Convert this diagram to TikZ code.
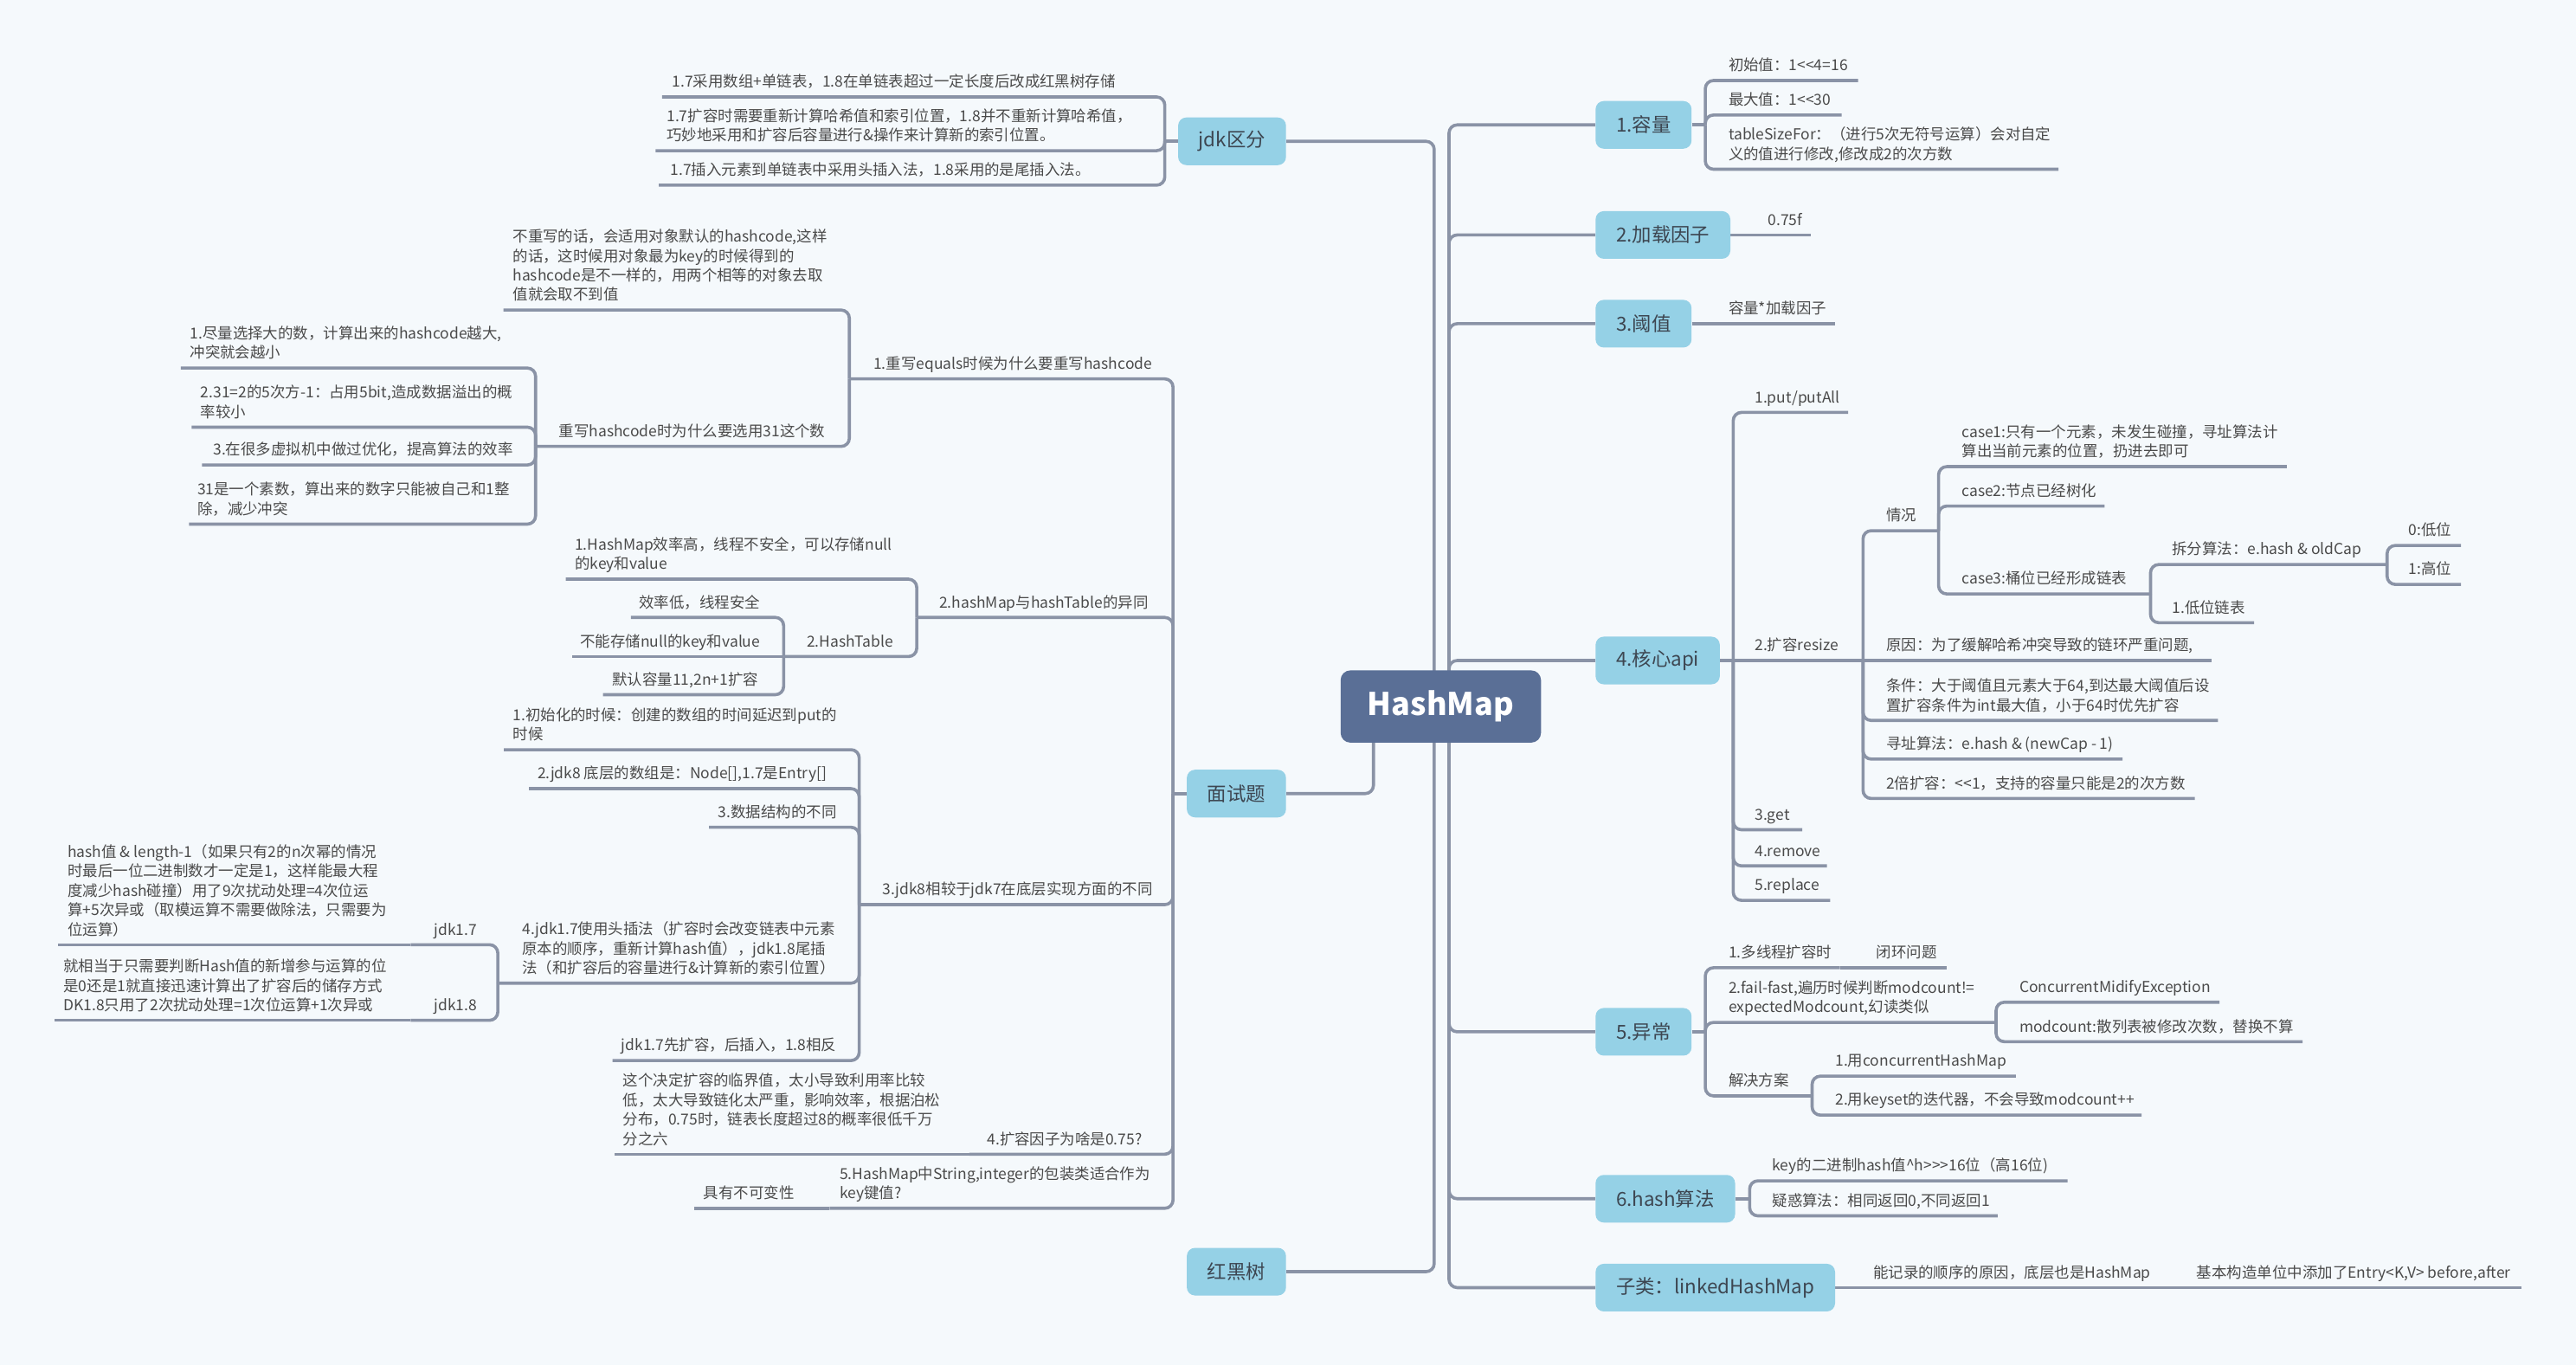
\documentclass[tikz,border=0pt]{standalone}
\usepackage{fontspec}
\setmainfont{Noto Sans CJK SC}[Ligatures=TeXOff]
\usetikzlibrary{backgrounds}
\definecolor{bgcol}{HTML}{F5F9FC}
\definecolor{linecol}{HTML}{8A93A6}
\definecolor{catfill}{HTML}{95D1E6}
\definecolor{hubfill}{HTML}{5A6F96}
\definecolor{txtcol}{HTML}{4A4A4A}
\definecolor{cattxt}{HTML}{3D4651}
\begin{document}
\begin{tikzpicture}[x=1pt,y=-1pt,
  link/.style={draw=linecol, line width=1.9pt, rounded corners=5pt},
  txt/.style={anchor=south west, yshift=3.2pt, inner sep=0pt, align=left, text=txtcol,
    text depth=2.5pt, font=\fontsize{9.2}{11.8}\selectfont},
  cat/.style={fill=catfill, rounded corners=5pt, minimum height=29pt, inner xsep=12.5pt,
    inner ysep=0pt, text=cattxt, font=\fontsize{11.8}{14}\selectfont},
  hub/.style={fill=hubfill, rounded corners=6pt, minimum width=122pt, minimum height=44pt,
    text=white, font=\fontsize{19}{22}\selectfont\bfseries}]

% ---------- central topic and main branches ----------
\node[hub] (hub) at (877,430) {HashMap};
\coordinate (hubR) at (882,430);
\coordinate (hubL) at (873,430);
\coordinate (hubI) at (836,430);

\node[cat, anchor=west] (cap) at (971,76) {1.容量};
\node[cat, anchor=west] (lf)  at (971,143) {2.加载因子};
\node[cat, anchor=west] (thr) at (971,197) {3.阈值};
\node[cat, anchor=west] (api) at (971,402) {4.核心api};
\node[cat, anchor=west] (exc) at (971,628) {5.异常};
\node[cat, anchor=west] (hsh) at (971,729.6) {6.hash算法};
\node[cat, anchor=west] (lhm) at (971,783.7) {子类：linkedHashMap};
\node[cat, anchor=east] (jdk) at (783,86) {jdk区分};
\node[cat, anchor=east] (itv) at (783,483) {面试题};
\node[cat, anchor=east] (rbt) at (783,774) {红黑树};

\coordinate (cap-j) at (1038,76);
\coordinate (api-j) at (1055,402);
\coordinate (exc-j) at (1038,628);
\coordinate (hsh-j) at (1065,729.6);
\coordinate (jdk-j) at (709,86);
\coordinate (itv-j) at (714,483);

% ---------- 1.容量 ----------
\coordinate (c1-b) at (1131,49);   \node[txt] (c1) at (1052,49) {初始值：1<<4=16};
\coordinate (c2-b) at (1121,70);   \node[txt] (c2) at (1052,70) {最大值：1<<30};
\coordinate (c3-b) at (1253,103);  \node[txt] (c3) at (1052,103) {tableSizeFor：（进行5次无符号运算）会对自定\\义的值进行修改,修改成2的次方数};

% ---------- 2.加载因子 / 3.阈值 ----------
\coordinate (l1-b) at (1102,143);  \node[txt] (l1) at (1076,143) {0.75f};
\coordinate (t0-b) at (1117,197);  \node[txt] (t0) at (1052,197) {容量*加载因子};

% ---------- 4.核心api ----------
\coordinate (a1-b) at (1125,251);  \node[txt] (a1) at (1068,251) {1.put/putAll};
\coordinate (a2-b) at (1134,402);  \node[txt] (a2) at (1068,402) {2.扩容resize};
\coordinate (a3-b) at (1097,505);  \node[txt] (a3) at (1068,505) {3.get};
\coordinate (a4-b) at (1112,527);  \node[txt] (a4) at (1068,527) {4.remove};
\coordinate (a5-b) at (1114,548);  \node[txt] (a5) at (1068,548) {5.replace};

\coordinate (r1-b) at (1180,323);  \node[txt] (r1) at (1148,323) {情况};
\coordinate (r2-b) at (1346,402);  \node[txt] (r2) at (1148,402) {原因：为了缓解哈希冲突导致的链环严重问题,};
\coordinate (r3-b) at (1350,438.5);\node[txt] (r3) at (1148,438.5) {条件：大于阈值且元素大于64,到达最大阈值后设\\置扩容条件为int最大值，小于64时优先扩容};
\coordinate (r4-b) at (1292,462);  \node[txt] (r4) at (1148,462) {寻址算法：e.hash \& (newCap - 1)};
\coordinate (r5-b) at (1336,486);  \node[txt] (r5) at (1148,486) {2倍扩容：<<1，支持的容量只能是2的次方数};

\coordinate (s1-b) at (1392,284);  \node[txt] (s1) at (1194,284) {case1:只有一个元素，未发生碰撞，寻址算法计\\算出当前元素的位置，扔进去即可};
\coordinate (s2-b) at (1281,308);  \node[txt] (s2) at (1194,308) {case2:节点已经树化};
\coordinate (s3-b) at (1309,361.5);\node[txt] (s3) at (1194,361.5) {case3:桶位已经形成链表};

\coordinate (t1-b) at (1453,343.6);\node[txt] (t1) at (1322,343.6) {拆分算法：e.hash \& oldCap};
\coordinate (t2-b) at (1372,379);  \node[txt] (t2) at (1322,379) {1.低位链表};
\coordinate (u1-b) at (1498,332);  \node[txt] (u1) at (1466,332) {0:低位};
\coordinate (u2-b) at (1498,355.7);\node[txt] (u2) at (1466,355.7) {1:高位};

% ---------- 5.异常 ----------
\coordinate (e1-b) at (1120,589);    \node[txt] (e1) at (1052,589) {1.多线程扩容时};
\coordinate (e1c-b) at (1185,589);   \node[txt] (e1c) at (1142,589) {闭环问题};
\coordinate (e2-b) at (1215,622.3);  \node[txt] (e2) at (1052,622.3) {2.fail-fast,遍历时候判断modcount!=\\expectedModcount,幻读类似};
\coordinate (e21-b) at (1351,610);   \node[txt] (e21) at (1229,610) {ConcurrentMidifyException};
\coordinate (e22-b) at (1401.6,634); \node[txt] (e22) at (1229,634) {modcount:散列表被修改次数，替换不算};
\coordinate (e3-b) at (1103,667);    \node[txt] (e3) at (1052,667) {解决方案};
\coordinate (e31-b) at (1227,655);   \node[txt] (e31) at (1117,655) {1.用concurrentHashMap};
\coordinate (e32-b) at (1303.6,678.7);\node[txt] (e32) at (1117,678.7) {2.用keyset的迭代器，不会导致modcount++};

% ---------- 6.hash算法 / 子类 ----------
\coordinate (h1-b) at (1258.5,718.7); \node[txt] (h1) at (1078.6,718.7) {key的二进制hash值\textasciicircum h>>>16位（高16位)};
\coordinate (h2-b) at (1216,740);     \node[txt] (h2) at (1078.6,740) {疑惑算法：相同返回0,不同返回1};
\coordinate (k1-b) at (1315,783.7);   \node[txt] (k1) at (1140,783.7) {能记录的顺序的原因，底层也是HashMap};
\coordinate (k2-b) at (1535,783.7);   \node[txt] (k2) at (1337,783.7) {基本构造单位中添加了Entry<K,V> before,after};

% ---------- jdk区分 ----------
\coordinate (j1-b) at (403,59);    \node[txt] (j1) at (409,59) {1.7采用数组+单链表，1.8在单链表超过一定长度后改成红黑树存储};
\coordinate (j2-b) at (399,91.7);  \node[txt] (j2) at (405.7,91.7) {1.7扩容时需要重新计算哈希值和索引位置，1.8并不重新计算哈希值，\\巧妙地采用和扩容后容量进行\&操作来计算新的索引位置。};
\coordinate (j3-b) at (401,112.7); \node[txt] (j3) at (408,112.7) {1.7插入元素到单链表中采用头插入法，1.8采用的是尾插入法。};

% ---------- 面试题 ----------
\coordinate (q1-b) at (517,230.6);   \node[txt] (q1) at (531.5,230.6) {1.重写equals时候为什么要重写hashcode};
\coordinate (q11-b) at (306.4,188.7);\node[txt] (q11) at (312,188.7) {不重写的话，会适用对象默认的hashcode,这样\\的话，这时候用对象最为key的时候得到的\\hashcode是不一样的，用两个相等的对象去取\\值就会取不到值};
\coordinate (q12-b) at (326,271.7);  \node[txt] (q12) at (340,271.7) {重写hashcode时为什么要选用31这个数};
\coordinate (q121-b) at (110,224);   \node[txt] (q121) at (115.5,224) {1.尽量选择大的数，计算出来的hashcode越大,\\冲突就会越小};
\coordinate (q122-b) at (116.7,260); \node[txt] (q122) at (122,260) {2.31=2的5次方-1：占用5bit,造成数据溢出的概\\率较小};
\coordinate (q123-b) at (123,283);   \node[txt] (q123) at (129.6,283) {3.在很多虚拟机中做过优化，提高算法的效率};
\coordinate (q124-b) at (115,319);   \node[txt] (q124) at (120,319) {31是一个素数，算出来的数字只能被自己和1整\\除，减少冲突};

\coordinate (q2-b) at (558,375.8);   \node[txt] (q2) at (571.5,375.8) {2.hashMap与hashTable的异同};
\coordinate (q21-b) at (344.4,352.5);\node[txt] (q21) at (349.8,352.5) {1.HashMap效率高，线程不安全，可以存储null\\的key和value};
\coordinate (q22-b) at (477,399.6);  \node[txt] (q22) at (491,399.6) {2.HashTable};
\coordinate (q221-b) at (384,375.8); \node[txt] (q221) at (388.8,375.8) {效率低，线程安全};
\coordinate (q222-b) at (348.3,399.6);\node[txt] (q222) at (353,399.6) {不能存储null的key和value};
\coordinate (q223-b) at (367,422.8); \node[txt] (q223) at (372.5,422.8) {默认容量11,2n+1扩容};

\coordinate (q3-b) at (523,550.6);   \node[txt] (q3) at (537,550.6) {3.jdk8相较于jdk7在底层实现方面的不同};
\coordinate (q31-b) at (306.7,456.3);\node[txt] (q31) at (312,456.3) {1.初始化的时候：创建的数组的时间延迟到put的\\时候};
\coordinate (q32-b) at (322,480);    \node[txt] (q32) at (327,480) {2.jdk8 底层的数组是：Node[],1.7是Entry[]};
\coordinate (q33-b) at (431.6,503.5);\node[txt] (q33) at (437,503.5) {3.数据结构的不同};
\coordinate (q34-b) at (303,598.4);  \node[txt] (q34) at (317.7,598.4) {4.jdk1.7使用头插法（扩容时会改变链表中元素\\原本的顺序，重新计算hash值），jdk1.8尾插\\法（和扩容后的容量进行\&计算新的索引位置）};
\coordinate (q341-b) at (250,575);   \node[txt] (q341) at (264,575) {jdk1.7};
\coordinate (q3411-b) at (35.5,575); \node[txt] (q3411) at (41,575) {hash值 \& length-1（如果只有2的n次幂的情况\\时最后一位二进制数才一定是1，这样能最大程\\度减少hash碰撞）用了9次扰动处理=4次位运\\算+5次异或（取模运算不需要做除法，只需要为\\位运算）};
\coordinate (q342-b) at (250,621);   \node[txt] (q342) at (264,621) {jdk1.8};
\coordinate (q3421-b) at (33,621);   \node[txt] (q3421) at (38.5,621) {就相当于只需要判断Hash值的新增参与运算的位\\是0还是1就直接迅速计算出了扩容后的储存方式\\DK1.8只用了2次扰动处理=1次位运算+1次异或};
\coordinate (q35-b) at (372.8,645.5);\node[txt] (q35) at (378,645.5) {jdk1.7先扩容，后插入，1.8相反};

\coordinate (q4-b) at (590,702.5);   \node[txt] (q4) at (600.7,702.5) {4.扩容因子为啥是0.75?};
\coordinate (q41-b) at (374,702.5);  \node[txt] (q41) at (379,702.5) {这个决定扩容的临界值，太小导致利用率比较\\低，太大导致链化太严重，影响效率，根据泊松\\分布，0.75时，链表长度超过8的概率很低千万\\分之六};
\coordinate (q5-b) at (505,735.4);   \node[txt] (q5) at (511,735.4) {5.HashMap中String,integer的包装类适合作为\\key键值?};
\coordinate (q51-b) at (422.6,735.4);\node[txt] (q51) at (428,735.4) {具有不可变性};

% ---------- connectors, under the nodes ----------
\begin{pgfonlayer}{background}
\path[use as bounding box, fill=bgcol] (0,0) rectangle (1568,831);

% trunk
\foreach \t in {cap,lf,thr,api,exc,hsh,lhm} \draw[link] (hubR) |- (\t.west);
\draw[link] (hubL) |- (jdk.east);
\draw[link] (hubI) |- (itv.east);
\draw[link] (hubL) |- (rbt.east);

% category boxes to their spines
\draw[link] (cap.east) -- (cap-j);
\draw[link] (api.east) -- (a2-b);
\draw[link] (exc.east) -- (exc-j);
\draw[link] (hsh.east) -- (hsh-j);
\draw[link] (jdk.west) -- (jdk-j);
\draw[link] (itv.west) -- (itv-j);
\draw[link] (lf.east) -- (l1-b);
\draw[link] (thr.east) -- (t0-b);
\draw[link] (lhm.east) -- (k1-b);
\draw[link] (k1-b) -- (k2-b);

% branch lines: vertical from the parent end, then along the child's underline
\foreach \c in {c1,c2,c3} \draw[link] (cap-j) |- (\c-b);
\foreach \c in {a1,a3,a4,a5} \draw[link] (api-j) |- (\c-b);
\foreach \c in {r1,r3,r4,r5} \draw[link] (a2-b) |- (\c-b);
\draw[link] (a2-b) -- (r2-b);
\foreach \c in {s1,s2,s3} \draw[link] (r1-b) |- (\c-b);
\foreach \c in {t1,t2} \draw[link] (s3-b) |- (\c-b);
\foreach \c in {u1,u2} \draw[link] (t1-b) |- (\c-b);

\foreach \c in {e1,e2,e3} \draw[link] (exc-j) |- (\c-b);
\draw[link] (e1-b) -- (e1c-b);
\foreach \c in {e21,e22} \draw[link] (e2-b) |- (\c-b);
\foreach \c in {e31,e32} \draw[link] (e3-b) |- (\c-b);
\foreach \c in {h1,h2} \draw[link] (hsh-j) |- (\c-b);

\foreach \c in {j1,j2,j3} \draw[link] (jdk-j) |- (\c-b);

\foreach \c in {q1,q2,q3,q4,q5} \draw[link] (itv-j) |- (\c-b);
\foreach \c in {q11,q12} \draw[link] (q1-b) |- (\c-b);
\foreach \c in {q121,q122,q123,q124} \draw[link] (q12-b) |- (\c-b);
\foreach \c in {q21,q22} \draw[link] (q2-b) |- (\c-b);
\foreach \c in {q221,q223} \draw[link] (q22-b) |- (\c-b);
\draw[link] (q22-b) -- (q222-b);
\foreach \c in {q31,q32,q33,q34,q35} \draw[link] (q3-b) |- (\c-b);
\foreach \c in {q341,q342} \draw[link] (q34-b) |- (\c-b);
\draw[link] (q341-b) -- (q3411-b);
\draw[link] (q342-b) -- (q3421-b);
\draw[link] (q4-b) -- (q41-b);
\draw[link] (q5-b) -- (q51-b);
\end{pgfonlayer}
\end{tikzpicture}
\end{document}
